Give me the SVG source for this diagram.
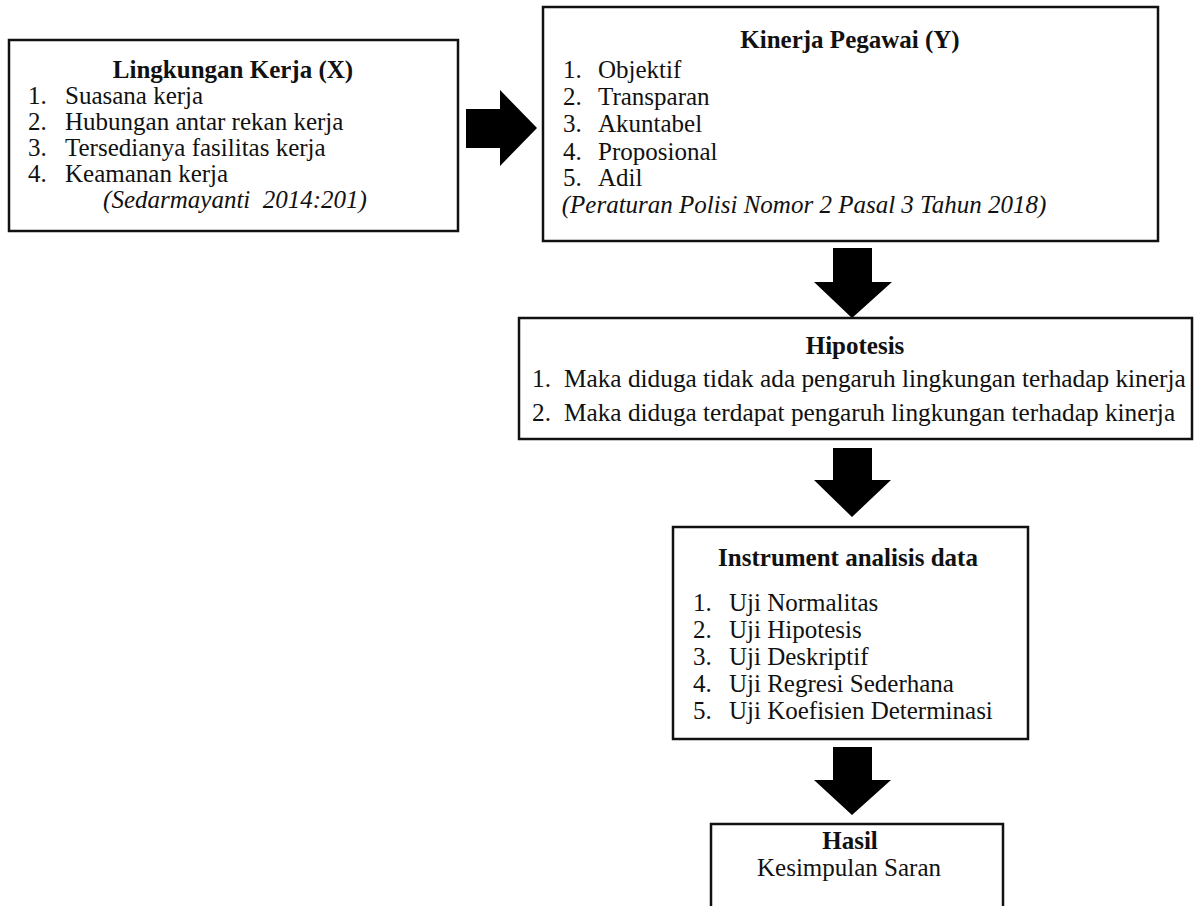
<svg xmlns="http://www.w3.org/2000/svg" width="1194" height="906" viewBox="0 0 1194 906">
<style>
.box{fill:#fff;stroke:#111;stroke-width:2.5}
.t{font-family:'Liberation Serif',serif;font-size:25px;fill:#111;white-space:pre}
.h{font-size:25.3px}
.b{font-weight:bold}
.i{font-style:italic}
.c{text-anchor:middle}
.arr{fill:#000}
</style>
<rect width="1194" height="906" fill="#fff"/>
<g id="connectors">
<path class="arr" d="M466,109 H500 V90 L537,128 L500,166 V148 H466 Z"/>
<path class="arr" d="M833,248 H872 V282 H892 L852,318 L814,282 H833 Z"/>
<path class="arr" d="M833,448 H872 V480 H891 L852,517 L814,480 H833 Z"/>
<path class="arr" d="M833,747 H872 V780 H891 L852,815 L814,780 H833 Z"/>
</g>
<g id="lingkungan">
<rect class="box" x="9" y="40" width="449" height="191"/>
<text class="t b c" x="233" y="78">Lingkungan Kerja (X)</text>
<text class="t" x="28" y="104">1.</text><text class="t" x="65" y="104">Suasana kerja</text>
<text class="t" x="28" y="130">2.</text><text class="t" x="65" y="130">Hubungan antar rekan kerja</text>
<text class="t" x="28" y="156">3.</text><text class="t" x="65" y="156">Tersedianya fasilitas kerja</text>
<text class="t" x="28" y="182">4.</text><text class="t" x="65" y="182">Keamanan kerja</text>
<text class="t i c" x="235" y="208">(Sedarmayanti  2014:201)</text>
</g>
<g id="kinerja">
<rect class="box" x="543" y="7" width="615" height="234"/>
<text class="t b c" x="850" y="48">Kinerja Pegawai (Y)</text>
<text class="t" x="563" y="78">1.</text><text class="t" x="598" y="78">Objektif</text>
<text class="t" x="563" y="105">2.</text><text class="t" x="598" y="105">Transparan</text>
<text class="t" x="563" y="132">3.</text><text class="t" x="598" y="132">Akuntabel</text>
<text class="t" x="563" y="160">4.</text><text class="t" x="598" y="160">Proposional</text>
<text class="t" x="563" y="186">5.</text><text class="t" x="598" y="186">Adil</text>
<text class="t i c" x="804" y="213">(Peraturan Polisi Nomor 2 Pasal 3 Tahun 2018)</text>
</g>
<g id="hipotesis">
<rect class="box" x="519" y="318" width="673" height="121"/>
<text class="t b c" x="855" y="354">Hipotesis</text>
<text class="t h" x="532" y="387">1.</text><text class="t h" x="564" y="387">Maka diduga tidak ada pengaruh lingkungan terhadap kinerja</text>
<text class="t h" x="532" y="421">2.</text><text class="t h" x="564" y="421">Maka diduga terdapat pengaruh lingkungan terhadap kinerja</text>
</g>
<g id="instrument">
<rect class="box" x="673" y="527" width="355" height="212"/>
<text class="t b c" x="848" y="566">Instrument analisis data</text>
<text class="t" x="693" y="611">1.</text><text class="t" x="729" y="611">Uji Normalitas</text>
<text class="t" x="693" y="638">2.</text><text class="t" x="729" y="638">Uji Hipotesis</text>
<text class="t" x="693" y="665">3.</text><text class="t" x="729" y="665">Uji Deskriptif</text>
<text class="t" x="693" y="692">4.</text><text class="t" x="729" y="692">Uji Regresi Sederhana</text>
<text class="t" x="693" y="719">5.</text><text class="t" x="729" y="719">Uji Koefisien Determinasi</text>
</g>
<g id="hasil">
<rect class="box" x="711" y="824" width="292" height="100"/>
<text class="t b c" x="850" y="849">Hasil</text>
<text class="t c" x="849" y="876">Kesimpulan Saran</text>
</g>
</svg>
